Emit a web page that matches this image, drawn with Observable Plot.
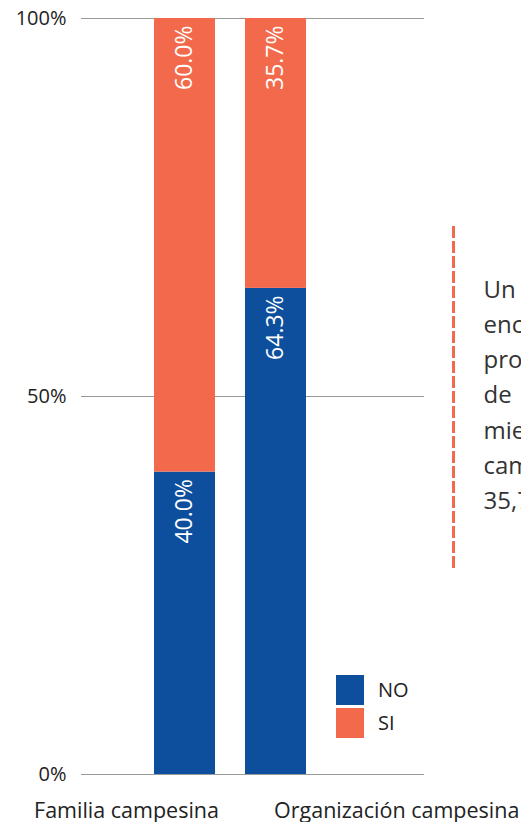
<!DOCTYPE html>
<html><head><meta charset="utf-8">
<script src="https://cdn.jsdelivr.net/npm/d3@7"></script>
<script src="https://cdn.jsdelivr.net/npm/@observablehq/plot@0.6"></script>
<style>
body{margin:0;background:#fff;}
#wrap{position:relative;width:521px;height:822px;overflow:hidden;font-family:"Open Sans",sans-serif;}
#legend{position:absolute;left:336px;top:673px;}
.item{display:flex;align-items:center;height:33px;font-size:20px;color:#222;margin-bottom:0}
.sw{width:28px;height:30px;margin-right:14px}
</style></head><body><div id="wrap"><div id="legend"></div></div>
<script>
const categories = ["Familia campesina", "Organización campesina"];
const series = ["NO", "SI"];
const noValues = [40.0, 64.3];
const siValues = [60.0, 35.7];
const yTicks = [0, 50, 100];
const colors = ["#0d4f9c", "#f26a4b"];
const noteLines = ["Un porcentaje", "encuestado", "propone", "de", "miembros", "campesinos", "35,7%"];

const rows = categories.flatMap((c, i) => [
  {cat: c, ans: series[0], v: noValues[i]},
  {cat: c, ans: series[1], v: siValues[i]}
]);

const chart = Plot.plot({
  width: 521,
  height: 822,
  marginLeft: 81,
  marginRight: 97,
  marginTop: 18,
  marginBottom: 48,
  style: {fontFamily: "'Open Sans', sans-serif", background: "#fff", color: "#222"},
  x: {domain: categories, range: [154, 306], paddingInner: 0.33, paddingOuter: 0, axis: null},
  y: {domain: [0, 100], axis: null},
  color: {domain: series, range: colors},
  marks: [
    Plot.ruleY(yTicks, {stroke: "#999", strokeWidth: 1.2}),
    Plot.axisY(yTicks, {label: null, tickSize: 0, tickPadding: 15, fontSize: 20, tickFormat: d => d + "%", fill: "#222"}),
    Plot.barY(rows, {x: "cat", y: "v", fill: "ans"}),
    Plot.text(rows, Plot.stackY2({x: "cat", y: "v", text: d => d.v.toFixed(1) + "%", rotate: -90, textAnchor: "end", lineAnchor: "middle", dy: 7, fill: "white", fontSize: 23})),
    Plot.text([categories[0]], {x: d => d, frameAnchor: "bottom", lineAnchor: "bottom", textAnchor: "end", dx: 34, dy: 43, fontSize: 21.5, fill: "#222"}),
    Plot.text([categories[1]], {x: d => d, frameAnchor: "bottom", lineAnchor: "bottom", textAnchor: "start", dx: -2, dy: 43, fontSize: 21.5, fill: "#222"}),
    Plot.frame({anchor: "right", stroke: colors[1], strokeWidth: 3, strokeDasharray: "9,6", insetTop: 209, insetBottom: 204, dx: 29}),
    Plot.text([noteLines.join("\n")], {frameAnchor: "top-right", textAnchor: "start", lineAnchor: "top", dx: 59, dy: 254, fontSize: 24, lineHeight: 1.47, fill: "#333"})
  ]
});
document.getElementById("wrap").prepend(chart);

const legend = document.getElementById("legend");
series.forEach((s, i) => {
  const item = document.createElement("div");
  item.className = "item";
  const sw = document.createElement("div");
  sw.className = "sw";
  sw.style.background = colors[i];
  const lab = document.createElement("span");
  lab.textContent = s;
  item.append(sw, lab);
  legend.append(item);
});
</script>
</body></html>
